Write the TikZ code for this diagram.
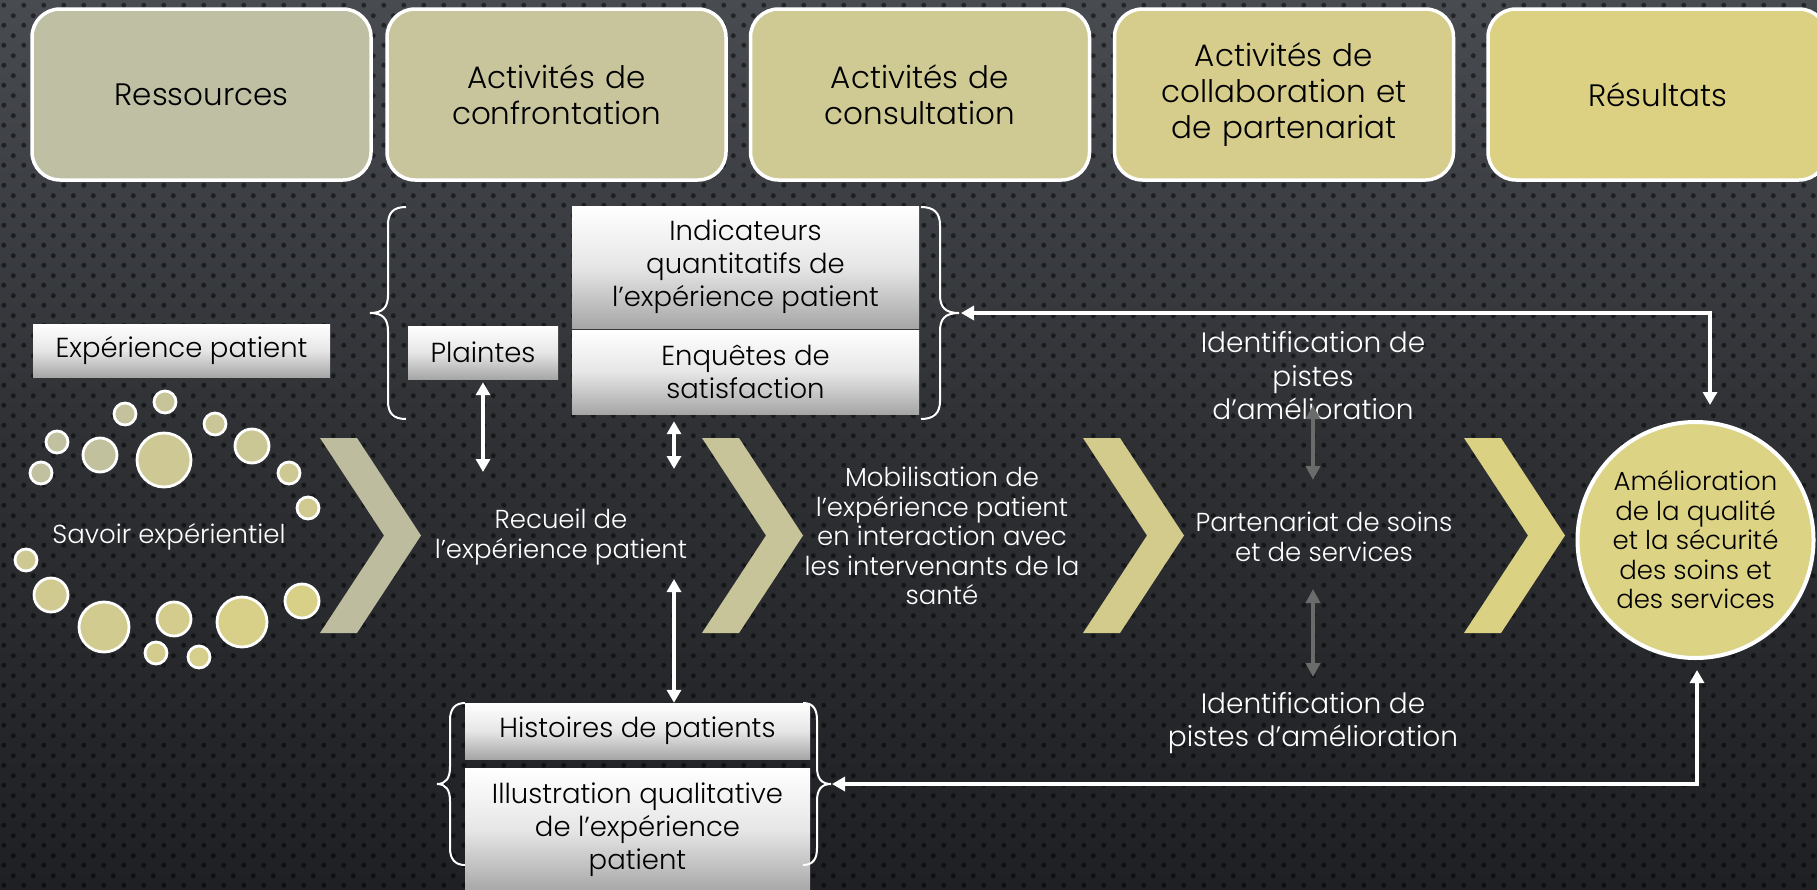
\documentclass[tikz,border=0pt]{standalone}
\usepackage{fontspec}
\IfFontExistsTF{Poppins Light}{\setmainfont{Poppins Light}}{\setmainfont{Poppins}}
\usetikzlibrary{arrows.meta,patterns.meta,shapes.geometric}

\definecolor{bgtop}{HTML}{484B50}
\definecolor{bgmid}{HTML}{2E3034}
\definecolor{bgbot}{HTML}{1E2023}
\definecolor{tb1}{HTML}{BFBFA3}
\definecolor{tb2}{HTML}{C8C59D}
\definecolor{tb3}{HTML}{CFCA93}
\definecolor{tb4}{HTML}{D6CD8C}
\definecolor{tb5}{HTML}{DCD183}
\definecolor{ch1}{HTML}{BDBC9F}
\definecolor{ch2}{HTML}{C8C49A}
\definecolor{ch3}{HTML}{D2CB8C}
\definecolor{ch4}{HTML}{DAD183}
\definecolor{cgray}{HTML}{BEBEA2}
\definecolor{cyel}{HTML}{D9D088}
\definecolor{circfill}{HTML}{DCD385}
\definecolor{gboxmid}{HTML}{E6E6E6}
\definecolor{gboxbot}{HTML}{A6A6A6}
\definecolor{garrow}{HTML}{6B6B6B}

\tikzdeclarepattern{
  name=carbon,
  type=uncolored,
  bounding box={(0pt,0pt) and (20pt,20pt)},
  tile size={(20pt,20pt)},
  code={
    \fill (5pt,5pt) circle (2.6pt);
    \fill (15pt,15pt) circle (2.6pt);
  }
}

\newcommand\topfont{\fontsize{31}{36}\selectfont}
\newcommand\gfont{\fontsize{27.5}{33}\selectfont}
\newcommand\wfont{\fontsize{26}{29.5}\selectfont}
\newcommand\idfont{\fontsize{28}{33.5}\selectfont}
\newcommand\cfont{\fontsize{26}{29.5}\selectfont}

\begin{document}
\begin{tikzpicture}[x=1pt,y=-1pt,
  >={Triangle[width=14pt,length=13pt]},
  topbox/.style={rectangle, draw=white, line width=3.5pt, rounded corners=28pt,
    minimum width=339pt, minimum height=171pt, text width=320pt, align=center,
    inner sep=0pt, text=black, font=\topfont},
  gbox/.style={rectangle, top color=white, bottom color=gboxbot, middle color=gboxmid,
    text=black, inner sep=0pt, align=center, font=\gfont},
  wtext/.style={text=white, inner sep=0pt, align=center, font=\wfont},
  idtext/.style={text=white, inner sep=0pt, align=center, font=\idfont},
  brace/.style={draw=white, line width=2pt},
  warr/.style={draw=white, line width=3.5pt, <->},
  garr/.style={draw=garrow, line width=3.5pt, <->, >={Triangle[width=14pt,length=14pt]}},
  chev/.pic={\path[pic actions] (0,0) -- (37,0) -- (101,97.5) -- (37,195) -- (0,195) -- (64,97.5) -- cycle;}
]
\useasboundingbox (0,0) rectangle (1817,889);
% background
\shade[top color=bgtop, bottom color=bgbot, middle color=bgmid] (0,0) rectangle (1817,889);
\fill[pattern=carbon, pattern color=black, fill opacity=.5] (0,0) rectangle (1817,889);

% top boxes
\node[topbox, fill=tb1] (res) at (201.5,94.5) {Ressources};
\node[topbox, fill=tb2] (conf) at (556.5,94.5) {Activités de\\confrontation};
\node[topbox, fill=tb3] (cons) at (920,94.5) {Activités de\\consultation};
\node[topbox, fill=tb4] (coll) at (1284,94.5) {Activités de\\collaboration et\\de partenariat};
\node[topbox, fill=tb5] (resu) at (1657.5,94.5) {Résultats};

% circles of experiential knowledge
\foreach \cx/\cy/\r/\p in {165/402/11/35, 125/414/11/20, 215/424/11/45, 57/442/11/10,
  100/455/17/15, 164/460/27/55, 252/446/17/50, 41/473/11/10, 289/473/11/60,
  308/508/11/65, 26/560/11/60, 51/595/17/65, 104/627/25/70, 174/619/17/80,
  242/622/25/95, 302/601/17/100, 156/653/11/80, 199/657/11/90}
  \filldraw[draw=white, line width=2.8pt, fill=cyel!\p!cgray] (\cx,\cy) circle (\r pt);

% chevrons
\pic[fill=ch1] at (320,438) {chev};
\pic[fill=ch2] at (702,438) {chev};
\pic[fill=ch3] at (1083,438) {chev};
\pic[fill=ch4] at (1464,438) {chev};

% gray boxes
\node[gbox, minimum width=297pt, minimum height=53pt] (exp) at (181.5,350.5) {Expérience patient};
\node[gbox, minimum width=150pt, minimum height=53pt] (pla) at (483,352.5) {Plaintes};
\node[gbox, minimum width=347pt, minimum height=122pt] (ind) at (745.5,267) {Indicateurs\\quantitatifs de\\l’expérience patient};
\node[gbox, minimum width=347pt, minimum height=84pt] (enq) at (745.5,372) {Enquêtes de\\satisfaction};
\node[gbox, minimum width=345pt, minimum height=56pt] (his) at (637.5,731) {Histoires de patients};
\node[gbox, minimum width=345pt, minimum height=124pt] (ill) at (637.5,830) {Illustration qualitative\\de l’expérience\\patient};

% braces
\draw[brace] (406,207) .. controls (393,207) and (388,213) .. (388,225) -- (388,295)
  .. controls (388,307) and (383,313) .. (370,313) .. controls (383,313) and (388,319) .. (388,331)
  -- (388,401) .. controls (388,413) and (393,419) .. (406,419);
\draw[brace] (921,207) .. controls (934,207) and (940,213) .. (940,225) -- (940,295)
  .. controls (940,307) and (945,313) .. (959,313) .. controls (945,313) and (940,319) .. (940,331)
  -- (940,401) .. controls (940,413) and (934,419) .. (921,419);
\draw[brace] (465,703) .. controls (455,703) and (450,709) .. (450,720) -- (450,767)
  .. controls (450,778) and (446,784) .. (437,784) .. controls (446,784) and (450,790) .. (450,801)
  -- (450,848) .. controls (450,859) and (455,865) .. (465,865);
\draw[brace] (803,703) .. controls (813,703) and (817,709) .. (817,720) -- (817,767)
  .. controls (817,778) and (821,784) .. (831,784) .. controls (821,784) and (817,790) .. (817,801)
  -- (817,848) .. controls (817,859) and (813,865) .. (803,865);
\coordinate (rbtop) at (961,313);
\coordinate (rbbot) at (832,784);

% main texts
\node[wtext] (sav) at (169,537) {Savoir expérientiel};
\node[wtext] (rec) at (561,537) {Recueil de\\l’expérience patient};
\node[wtext] (mob) at (942,536) {Mobilisation de\\l’expérience patient\\en interaction avec\\les intervenants de la\\santé};
\node[wtext] (par) at (1324,537) {Partenariat de soins\\et de services};
\node[idtext] (id1) at (1313,376) {Identification de\\pistes\\d’amélioration};
\node[idtext] (id2) at (1313,723) {Identification de\\pistes d’amélioration};

% result circle
\node[circle, draw=white, line width=4pt, fill=circfill, minimum size=236pt, inner sep=0pt,
  text=black, align=center, font=\cfont] (amel) at (1695.5,540)
  {Amélioration\\de la qualité\\et la sécurité\\des soins et\\des services};

% white arrows
\coordinate (pa) at (483,472);
\coordinate (ea) at (674,469);
\coordinate (ha) at (674,579);
\draw[warr] ([yshift=-3pt]pla.south) -- (pa);
\draw[warr] ([xshift=-71.5pt,yshift=-7pt]enq.south) -- (ea);
\draw[warr] (ha) -- ([xshift=36.5pt]his.north);

% feedback loops
\coordinate (ctop) at (1710,405);
\coordinate (cbot) at (1697,670);
\draw[warr] (rbtop) -| (ctop);
\draw[warr] (rbbot) -| (cbot);

% gray arrows
\coordinate (g1a) at (1313,405);
\coordinate (g1b) at (1313,480);
\coordinate (g2a) at (1313,589);
\coordinate (g2b) at (1313,677);
\draw[garr] (g1a) -- (g1b);
\draw[garr] (g2a) -- (g2b);
\end{tikzpicture}
\end{document}
